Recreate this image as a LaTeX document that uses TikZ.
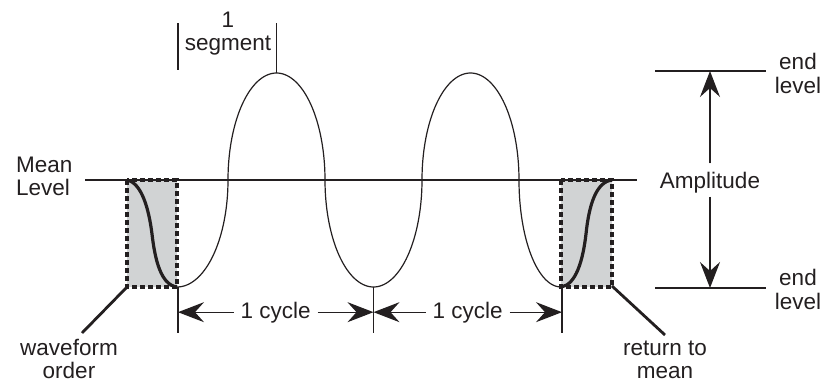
\documentclass[tikz,border=0pt]{standalone}
\usepackage{fontspec}
\setmainfont{Liberation Sans}
\usetikzlibrary{arrows.meta}
\definecolor{boxgray}{RGB}{209,211,212}
\definecolor{ink}{RGB}{35,31,32}
\begin{document}
\begin{tikzpicture}[x=1pt,y=-1pt,
  lbl/.style={font=\fontsize{22.5}{24}\selectfont, inner sep=0pt, text=ink},
  thinline/.style={line width=1.2pt, draw=ink},
  thickline/.style={line width=2.8pt, draw=ink},
  scurve/.style={line width=3.2pt, draw=ink},
  dashbox/.style={line width=3.2pt, draw=ink, dash pattern=on 5pt off 3pt, fill=boxgray},
  tip/.style={-{Stealth[length=26pt,width=20pt,inset=9pt]}, line width=1.2pt, draw=ink, fill=ink},
]
\useasboundingbox (0,0) rectangle (831,383);

% key points
\coordinate (ml0) at (85,180);
\coordinate (ml1) at (637,180);
\coordinate (bl0) at (127,180);
\coordinate (bl1) at (177,287);
\coordinate (br0) at (561,287);
\coordinate (br1) at (612,180);
\coordinate (t0) at (178,287);
\coordinate (t1) at (373.5,287);
\coordinate (t2) at (562,287);
\coordinate (t0b) at (178,333);
\coordinate (t1b) at (373.5,333);
\coordinate (t2b) at (562,333);
\coordinate (pk) at (276.5,73);
\coordinate (pkt) at (276.5,23);
\coordinate (sg0) at (178,70);
\coordinate (sg0t) at (178,23);
\coordinate (e1a) at (655,71);
\coordinate (e1b) at (766,71);
\coordinate (e2a) at (655,288);
\coordinate (e2b) at (766,288);
\coordinate (e1) at (710,71);
\coordinate (e2) at (710,288);
\coordinate (lbc) at (127,287);
\coordinate (rbc) at (612,286);
\coordinate (wo) at (82,333);
\coordinate (rm) at (665,335);

% boxes
\draw[dashbox] (bl0) rectangle (bl1);
\draw[dashbox] (br0 |- br1) rectangle (br1 |- br0);

% waveform
\draw[thinline]
  plot[domain=270:360, samples=40, smooth] ({177+51*cos(\x)},{180-107*sin(\x)})
  -- plot[domain=180:0, samples=80, smooth] ({276.5+48.5*cos(\x)},{180-107*sin(\x)})
  -- plot[domain=180:360, samples=80, smooth] ({373.5+48.5*cos(\x)},{180-107*sin(\x)})
  -- plot[domain=180:0, samples=80, smooth] ({470.5+48.5*cos(\x)},{180-107*sin(\x)})
  -- plot[domain=180:270, samples=40, smooth] ({561+42*cos(\x)},{180-107*sin(\x)});

% S curves
\draw[scurve] (bl0) .. controls (142,183) and (149,210) .. (152,234)
  .. controls (155,260) and (161,285) .. (bl1);
\draw[scurve] (br0) .. controls (576,285) and (583,260) .. (586,234)
  .. controls (589,205) and (596,182) .. (br1);

% mean level line
\draw[thickline] (ml0) -- (ml1);

% leaders
\draw[thickline] (lbc) -- (wo);
\draw[thickline] (rbc) -- (rm);

% cycle markers
\draw[thinline] (t0) -- (t0b);
\draw[thinline] (t1) -- (t1b);
\draw[thinline] (t2) -- (t2b);
\node[lbl, anchor=base, inner xsep=7pt] (c1) at (275.75,318) {1 cycle};
\node[lbl, anchor=base, inner xsep=7pt] (c2) at (467.75,318) {1 cycle};
\draw[tip] (c1.west) -- (c1.west -| t0);
\draw[tip] (c1.east) -- (c1.east -| t1);
\draw[tip] (c2.west) -- (c2.west -| t1);
\draw[tip] (c2.east) -- (c2.east -| t2);

% segment
\draw[thinline] (sg0t) -- (sg0);
\draw[thinline] (pkt) -- (pk);
\node[lbl, anchor=base] (one) at (228,27) {1};
\node[lbl, anchor=base] (seg) at (228,50) {segment};

% amplitude
\draw[thinline] (e1a) -- (e1b);
\draw[thinline] (e2a) -- (e2b);
\node[lbl, anchor=base] (amp) at (710,188) {Amplitude};
\draw[tip] ([yshift=8pt]amp.north) -- (e1);
\draw[tip] ([yshift=-4pt]amp.south) -- (e2);
\node[lbl, anchor=base] (end1) at (798,69) {end};
\node[lbl, anchor=base] (lev1) at (798,93) {level};
\node[lbl, anchor=base] (end2) at (798,285) {end};
\node[lbl, anchor=base] (lev2) at (798,309) {level};

% labels
\node[lbl, anchor=base west] (mean) at (16,172) {Mean};
\node[lbl, anchor=base west] (level) at (16,195) {Level};
\node[lbl, anchor=base] (wf) at (69,355) {waveform};
\node[lbl, anchor=base] (ord) at (69,378) {order};
\node[lbl, anchor=base] (ret) at (665,355) {return to};
\node[lbl, anchor=base] (mn) at (665,378) {mean};
\end{tikzpicture}
\end{document}
